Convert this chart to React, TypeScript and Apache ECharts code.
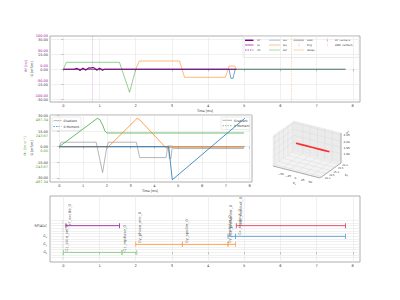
import React, { useEffect, useRef } from "react";
import * as echarts from "echarts";

const FONT = "DejaVu Sans";

// ---------- shared ticks ----------
const xTicks = [0, 1, 2, 3, 4, 5, 6, 7, 8];

// ---------- top panel ----------
const gTicksTop = [-30, -15, 0, 15, 30];
const gTickLabelsTop = ["-30.00", "-15.00", "0.00", "15.00", "30.00"];
const rfTickLabels = ["-100.00", "-50.00", "0.00", "50.00", "100.00"];

const gzTopT = [0, 0.08, 1.55, 1.83, 2.0, 7.8];
const gzTopV = [0, 7, 7, -23, 0, 0];
const gyTopT = [0, 2.0, 2.1, 3.21, 3.35, 4.48, 4.58, 4.74, 4.78, 7.8];
const gyTopV = [0, 0, 8.3, 8.3, -8, -8, 3.3, 3.3, 0, 0];
const gxTopT = [0, 4.58, 4.63, 4.69, 4.75, 7.8];
const gxTopV = [0, 0, -9, -9, 0, 0];
const rfT = [0, 0.3, 0.38, 0.46, 0.54, 0.62, 0.7, 0.76, 0.81, 0.86, 0.92, 1.0, 1.08, 1.14, 1.55, 4.78];
const rfReHz = [0, 0, 3, -4, 4, -3, 5, 4, 6, 4, -3, 4, -3, 0, 0, 0];
const rfImT = [0, 4.78];
const rfImHz = [0, 0];
const rfCenterT = 0.81;
const adcCenterT = 6.3;

// ---------- middle panel ----------
const gTicksMid = [-30, -15, 0, 15, 30];
const gTickLabelsMid = ["-30.00", "-15.00", "0.00", "15.00", "30.00"];
const momTickLabels = ["-487.34", "-243.67", "0.00", "243.67", "487.34"];

const gzMidT = [0, 0.08, 1.55, 1.82, 2.0, 7.8];
const gzMidV = [0, 4.3, 4.3, -25, 0, 0];
const gyMidT = [0, 2.0, 2.07, 3.24, 3.38, 4.49, 4.56, 4.74, 4.78, 7.8];
const gyMidV = [0, 0, 4.3, 4.3, -10.5, -10.5, 0.7, 0.7, 0, 0];
const gxMidT = [0, 4.58, 4.63, 4.69, 4.75, 4.8, 7.76];
const gxMidV = [0, 0, -11.5, -11.5, 0, -1.8, -1.8];

const mzT = [0, 1.6, 1.7, 1.82, 1.92, 2.0, 7.76];
const mzV = [0, 443, 425, 340, 245, 214, 214];
const myT = [0, 2.0, 2.07, 3.27, 3.38, 4.49, 4.56, 4.74, 4.78, 7.76];
const myV = [0, 0, 0, 443, 420, -20, -18, -5, -8, -8];
const mxT = [0, 4.6, 4.75, 7.8];
const mxV = [0, 0, -518, 445];

// ---------- bottom panel ----------
const rowNames = ["G{s|z}", "G{s|y}", "G{s|x}", "RF/ADC"];
const rowPos = [0, 3, 6, 10];
const rowGrid = [-2, -1, 0, 1, 2, 3, 4, 5, 6, 7, 8, 9, 10, 11, 12];
const rfSeg = [[0.07, 1.55]];
const adcSeg = [[4.78, 7.8]];
const gxSeg = [[4.55, 4.76], [4.76, 7.8]];
const gySeg = [[2.0, 3.29], [3.29, 4.55], [4.55, 4.76]];
const gzSeg = [[0, 1.62], [1.62, 2.03]];
const evtT = [0.075, 0.17, 1.69, 2.1, 3.4, 4.58, 4.63, 4.86, 4.9];
const evtRow = [0, 10, 0, 3, 3, 3, 6, 6, 10];
const evtName = [
  "Gz_slice_sel_0", "rf_excite_0", "Gz_rephase_0", "Gy_phase_enc_0", "Gy_spoiler_0",
  "Gy_rewinder_0", "Gx_prewinder_0", "Gx_readout_0", "adc_readout_0",
];

// ---------- 3D panel ----------
const k3xRange = [-80, 80];
const k3yRange = [23.8, 26.2];
const k3zRange = [1.8255, 2.0655];
const k3xTicks = [-50, -25, 0, 25, 50];
const k3yTicks = [24.0, 24.5, 25.0, 25.5, 26.0];
const k3zTicks = [1.9, 1.95, 2.0, 2.05];
const trajKx = [-57, -28, 0, 28, 57];
const trajKy = [25.65, 25.65, 25.65, 25.65, 25.65];
const trajKz = [1.929, 1.929, 1.929, 1.929, 1.929];

const zip = (a: number[], b: number[]) => a.map((t, i) => [t, b[i]]);

const L0 = [273, 166];
const EX = [47, 12];
const EY = [21, -15];
const EZ = [0, -30];
function P(kx: number, ky: number, kz: number) {
  const u = (kx - k3xRange[0]) / (k3xRange[1] - k3xRange[0]);
  const v = (ky - k3yRange[0]) / (k3yRange[1] - k3yRange[0]);
  const w = (kz - k3zRange[0]) / (k3zRange[1] - k3zRange[0]);
  return [L0[0] + u * EX[0] + v * EY[0] + w * EZ[0], L0[1] + u * EX[1] + v * EY[1] + w * EZ[1]];
}

function build3D(): any[] {
  const [x0, x1] = k3xRange;
  const [y0, y1] = k3yRange;
  const [z0, z1] = k3zRange;
  const els: any[] = [];
  const poly = (pts: number[][], fill: string) =>
    els.push({ type: "polygon", shape: { points: pts }, style: { fill, stroke: "#e2e2e2", lineWidth: 0.4 }, silent: true });
  poly([P(x0, y0, z0), P(x0, y1, z0), P(x0, y1, z1), P(x0, y0, z1)], "#efefef");
  poly([P(x0, y1, z0), P(x1, y1, z0), P(x1, y1, z1), P(x0, y1, z1)], "#ebebeb");
  poly([P(x0, y0, z0), P(x1, y0, z0), P(x1, y1, z0), P(x0, y1, z0)], "#f3f3f3");
  const ln = (a: number[], b: number[], color = "#d6d6d6", w = 0.4) =>
    els.push({ type: "line", shape: { x1: a[0], y1: a[1], x2: b[0], y2: b[1] }, style: { stroke: color, lineWidth: w }, silent: true });
  k3xTicks.forEach((t) => { ln(P(t, y0, z0), P(t, y1, z0)); ln(P(t, y1, z0), P(t, y1, z1)); });
  k3yTicks.forEach((t) => { ln(P(x0, t, z0), P(x1, t, z0)); ln(P(x0, t, z0), P(x0, t, z1)); });
  k3zTicks.forEach((t) => { ln(P(x0, y0, t), P(x0, y1, t)); ln(P(x0, y1, t), P(x1, y1, t)); });
  ln(P(x0, y0, z0), P(x1, y0, z0), "#666", 0.5);
  ln(P(x1, y0, z0), P(x1, y1, z0), "#666", 0.5);
  ln(P(x1, y1, z0), P(x1, y1, z1), "#666", 0.5);
  const txt = (s: string, x: number, y: number, align = "center", rot = 0, rich?: any, size = 3) =>
    els.push({
      type: "text", x, y, rotation: rot, silent: true,
      style: { text: s, fill: "#333", fontSize: size, fontFamily: FONT, align, verticalAlign: "middle", rich },
    });
  k3xTicks.forEach((t) => { const p = P(t, y0, z0); txt(t === 0 ? "0" : String(t).replace("-", "−"), p[0] - 1, p[1] + 5.5, "center", 0, undefined, 2.8); });
  k3yTicks.forEach((t) => { const p = P(x1, t, z0); txt(t.toFixed(1), p[0] + 3, p[1] + 1.5, "left", 0, undefined, 2.5); });
  k3zTicks.forEach((t) => { const p = P(x1, y1, t); txt(t.toFixed(2), p[0] + 2.5, p[1], "left", 0, undefined, 2.8); });
  const sub = { s: { fontSize: 2.2, fill: "#333", fontFamily: FONT, padding: [2, 0, 0, 0] } };
  const px = P(0, y0, z0);
  txt("k{s|x}", px[0] - 2, px[1] + 11, "center", 0, sub);
  const py = P(x1, (y0 + y1) / 2, z0);
  txt("k{s|y}", py[0] + 16, py[1] + 4, "center", 0, sub);
  txt("k{s|z}", 347, 132, "center", Math.PI / 2, sub);
  const pts = trajKx.map((kx, i) => P(kx, trajKy[i], trajKz[i]));
  els.push({ type: "polyline", shape: { points: pts }, style: { stroke: "#ff2b2b", lineWidth: 1.6 }, silent: true });
  return els;
}

function legendTop(): any[] {
  const els: any[] = [];
  els.push({ type: "rect", shape: { x: 243, y: 36.5, width: 116, height: 21, r: 1 }, style: { fill: "#fff", stroke: "#d4d4d4", lineWidth: 0.5 } });
  const ln = (x1: number, y1: number, x2: number, y2: number, stroke: string, w = 0.8, dash?: number[]) =>
    els.push({ type: "line", shape: { x1, y1, x2, y2 }, style: { stroke, lineWidth: w, lineDash: dash } });
  const tx = (s: string, x: number, y: number) =>
    els.push({ type: "text", x, y, style: { text: s, fill: "#333", fontSize: 2.8, fontFamily: FONT, verticalAlign: "middle" } });
  els.push({ type: "rect", shape: { x: 245, y: 39, width: 8.5, height: 2 }, style: { fill: "#800080" } });
  ln(245, 45, 253.5, 45, "#9a2a9a");
  ln(245, 50, 253.5, 50, "#9a2a9a", 0.8, [1.5, 1]);
  tx("RF", 257, 40); tx("re", 257, 45); tx("im", 257, 50);
  ln(269, 40, 280, 40, "rgba(31,119,180,0.7)");
  ln(269, 45, 280, 45, "rgba(255,127,14,0.6)");
  ln(269, 50, 280, 50, "rgba(44,160,44,0.5)");
  tx("Gx", 283, 40); tx("Gy", 283, 45); tx("Gz", 283, 50);
  els.push({ type: "rect", shape: { x: 293.5, y: 38.9, width: 10.5, height: 2.2 }, style: { fill: "#bdbdbd" } });
  ln(299, 43.5, 299, 46.5, "#f08a8a", 0.6, [0.8, 0.6]);
  els.push({ type: "rect", shape: { x: 293.5, y: 49, width: 10.5, height: 2 }, style: { fill: "#fcebd5" } });
  tx("ADC", 307, 40); tx("trig", 307, 45); tx("delay", 307, 50);
  ln(327.3, 38.5, 327.3, 41.5, "rgba(128,0,128,0.6)", 0.6);
  ln(327.3, 43.5, 327.3, 46.5, "rgba(244,180,120,0.7)", 0.6);
  tx("RF centers", 335, 40); tx("ADC centers", 335, 45);
  return els;
}

function legendMid(): any[] {
  const els: any[] = [];
  const box = (x: number, y: number, w: number, h: number) =>
    els.push({ type: "rect", shape: { x, y, width: w, height: h, r: 1 }, style: { fill: "#fff", stroke: "#d4d4d4", lineWidth: 0.5 } });
  const ln = (x1: number, y: number, x2: number, stroke: string, dash?: number[]) =>
    els.push({ type: "line", shape: { x1, y1: y, x2, y2: y }, style: { stroke, lineWidth: 0.8, lineDash: dash } });
  const tx = (s: string, x: number, y: number) =>
    els.push({ type: "text", x, y, style: { text: s, fill: "#333", fontSize: 3.1, fontFamily: FONT, verticalAlign: "middle" } });
  box(52, 117, 29, 13.5);
  ln(53.5, 120.7, 61.5, "#a0a0a0");
  ln(53.5, 126.5, 61.5, "rgba(31,119,180,0.85)", [1.5, 1]);
  tx("Gradient", 63.5, 120.7); tx("0 Moment", 63.5, 126.5);
  box(221, 117, 30, 12.5);
  ln(222.5, 120.3, 232, "#a0a0a0");
  ln(222.5, 125.7, 232, "rgba(44,160,44,0.75)", [1.5, 1]);
  tx("Gradient", 234, 120.3); tx("0 Moment", 234, 125.7);
  return els;
}

function titles(): any[] {
  const t = (s: string, x: number, y: number, fill: string, rot = 0, size = 3.2) => ({
    type: "text", x, y, rotation: rot, silent: true,
    style: { text: s, fill, fontSize: size, fontFamily: FONT, align: "center", verticalAlign: "middle" },
  });
  return [
    t("RF [Hz]", 25.5, 66, "#a000a0", Math.PI / 2),
    t("G [mT/m]", 31.7, 69, "#222", Math.PI / 2),
    t("Time [ms]", 205, 111, "#222"),
    t("M₀ [(m·s)⁻¹]", 25, 146, "#5a9a2a", Math.PI / 2),
    t("G [mT/m]", 32.3, 148, "#222", Math.PI / 2),
    t("Time [ms]", 150, 191, "#222"),
  ];
}

export default function App() {
  const ref = useRef<HTMLDivElement>(null);
  useEffect(() => {
    if (!ref.current) return;
    const chart = echarts.init(ref.current, null, { renderer: "svg" });

    const rfPerG = 100 / 30;
    const momPerG = 487.34 / 30;
    const topMin = -32.7, topMax = 33.3;
    const midMin = -34, midMax = 30.5;

    const xAx = (gi: number, min: number, max: number) => ({
      gridIndex: gi, type: "value", min, max,
      axisLine: { show: false },
      axisTick: { show: true, customValues: xTicks, length: 2, lineStyle: { color: "#888", width: 0.5 } },
      axisLabel: { customValues: xTicks, fontSize: 3.6, color: "#333", margin: 2, fontFamily: FONT },
      splitLine: { show: true, lineStyle: { color: "#e6e6e6", width: 0.6 } },
    });

    const line = (xi: number, yi: number, data: number[][], color: string, width = 1, extra: any = {}) => ({
      type: "line", xAxisIndex: xi, yAxisIndex: yi, data, showSymbol: false, symbol: "none", silent: true,
      lineStyle: { color, width, ...(extra.lineStyle || {}) }, z: extra.z || 2, markLine: extra.markLine,
    });

    const segSeries = (segs: number[][], row: number, color: string) =>
      segs.map((s) => ({
        type: "line", xAxisIndex: 2, yAxisIndex: 4, data: [[s[0], row], [s[1], row]],
        symbol: "rect", symbolSize: [0.9, 5], showSymbol: true, silent: true,
        itemStyle: { color }, lineStyle: { color, width: 1 },
      }));

    const series: any[] = [
      line(0, 0, zip(gzTopT, gzTopV), "rgba(44,160,44,0.5)"),
      line(0, 0, zip(gyTopT, gyTopV), "rgba(255,127,14,0.55)"),
      line(0, 0, zip(gxTopT, gxTopV), "rgba(31,119,180,0.65)"),
      line(0, 1, zip(rfT, rfReHz), "#800080", 1.1, {
        z: 3,
        markLine: {
          silent: true, symbol: "none", label: { show: false },
          data: [
            { xAxis: rfCenterT, lineStyle: { color: "rgba(128,0,128,0.22)", width: 0.6, type: "solid" } },
            { xAxis: adcCenterT, lineStyle: { color: "rgba(244,170,110,0.6)", width: 0.7, type: [1.5, 1] } },
          ],
        },
      }),
      line(0, 1, zip(rfImT, rfImHz), "rgba(128,0,128,0.7)", 0.6, { z: 3, lineStyle: { type: [1.5, 1] } }),

      line(1, 2, zip(gzMidT, gzMidV), "#a3a3a3", 0.8),
      line(1, 2, zip(gyMidT, gyMidV), "#a3a3a3", 0.8),
      line(1, 2, zip(gxMidT, gxMidV), "#a3a3a3", 0.8),
      line(1, 3, zip(mzT, mzV), "rgba(44,160,44,0.7)", 1, { z: 3 }),
      line(1, 3, zip(myT, myV), "rgba(255,127,14,0.75)", 1, { z: 3 }),
      line(1, 3, zip(mxT, mxV), "rgba(31,119,180,0.8)", 1, { z: 3 }),

      ...segSeries(rfSeg, 10, "#a23ca6"),
      ...segSeries(adcSeg, 10, "#e2506c"),
      ...segSeries(gxSeg, 6, "#6aa6d6"),
      ...segSeries(gySeg, 3, "#ffa54f"),
      ...segSeries(gzSeg, 0, "#8fd08f"),
      {
        type: "scatter", xAxisIndex: 2, yAxisIndex: 4, symbolSize: 0, silent: true, z: 5,
        data: evtT.map((t, i) => [t, evtRow[i], evtName[i]]),
        label: {
          show: true, position: "top", distance: 1, rotate: 90, align: "left", verticalAlign: "middle",
          formatter: (p: any) => p.data[2], fontSize: 3.8, color: "#333", fontFamily: FONT,
        },
      },
    ];

    const option: any = {
      animation: false,
      backgroundColor: "#fff",
      textStyle: { fontFamily: FONT },
      grid: [
        { left: 50, top: 36, width: 310, height: 66, show: true, borderColor: "#999", borderWidth: 0.8, backgroundColor: "transparent" },
        { left: 50, top: 115, width: 202, height: 67, show: true, borderColor: "#999", borderWidth: 0.8, backgroundColor: "transparent" },
        { left: 50, top: 196, width: 310, height: 66, show: true, borderColor: "#999", borderWidth: 0.8, backgroundColor: "transparent" },
      ],
      xAxis: [xAx(0, -0.37, 8.2), xAx(1, -0.39, 8.1), xAx(2, -0.37, 8.2)],
      yAxis: [
        {
          gridIndex: 0, type: "value", min: topMin, max: topMax,
          axisLine: { show: false },
          axisTick: { show: true, customValues: gTicksTop, length: 2, lineStyle: { color: "#888", width: 0.5 } },
          axisLabel: {
            customValues: gTicksTop, margin: 2, padding: [0, 0, 3, 0],
            formatter: (v: number) => {
              const i = gTicksTop.indexOf(v);
              return `{p|${rfTickLabels[i]}}\n{k|${gTickLabelsTop[i]}}`;
            },
            rich: {
              p: { color: "#a000a0", fontSize: 3.5, lineHeight: 4, fontFamily: FONT, align: "right" },
              k: { color: "#333", fontSize: 3.5, lineHeight: 4, fontFamily: FONT, align: "right" },
            },
          },
          splitLine: { show: true, lineStyle: { color: "#e6e6e6", width: 0.6 } },
        },
        { gridIndex: 0, type: "value", show: false, min: topMin * rfPerG, max: topMax * rfPerG, splitLine: { show: false } },
        {
          gridIndex: 1, type: "value", min: midMin, max: midMax,
          axisLine: { show: false },
          axisTick: { show: true, customValues: gTicksMid, length: 2, lineStyle: { color: "#888", width: 0.5 } },
          axisLabel: {
            customValues: gTicksMid, margin: 2, padding: [5, 0, 0, 0],
            formatter: (v: number) => {
              const i = gTicksMid.indexOf(v);
              return `{k|${gTickLabelsMid[i]}}\n{g|${momTickLabels[i]}}`;
            },
            rich: {
              k: { color: "#333", fontSize: 3.5, lineHeight: 4, fontFamily: FONT, align: "right" },
              g: { color: "#5a9a2a", fontSize: 3.5, lineHeight: 4, fontFamily: FONT, align: "right" },
            },
          },
          splitLine: { show: true, lineStyle: { color: "#e6e6e6", width: 0.6 } },
        },
        { gridIndex: 1, type: "value", show: false, min: midMin * momPerG, max: midMax * momPerG, splitLine: { show: false } },
        {
          gridIndex: 2, type: "value", min: -3.6, max: 21.1,
          axisLine: { show: false },
          axisTick: { show: true, customValues: rowGrid, length: 1.5, lineStyle: { color: "#999", width: 0.4 } },
          axisLabel: {
            customValues: rowPos, margin: 3, fontSize: 3.3, color: "#333", fontFamily: FONT,
            formatter: (v: number) => rowNames[rowPos.indexOf(v)],
            rich: { s: { fontSize: 2.3, color: "#333", fontFamily: FONT, padding: [2, 0, 0, 0] } },
          },
          splitLine: { show: true, lineStyle: { color: "#e3e3e3", width: 0.5 } },
        },
      ],
      series,
      graphic: { elements: [...legendTop(), ...legendMid(), ...titles(), ...build3D()] },
    };
    chart.setOption(option);
    return () => chart.dispose();
  }, []);
  return <div ref={ref} style={{ position: "fixed", left: 0, top: 0, width: 400, height: 300 }} />;
}
